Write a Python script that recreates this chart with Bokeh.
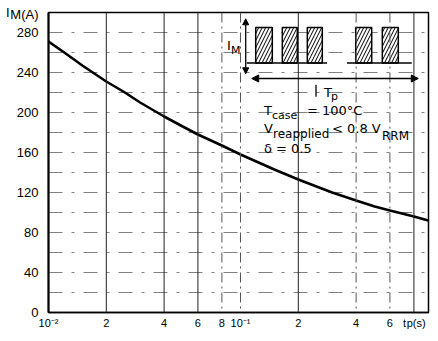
from bokeh.plotting import figure
from bokeh.models import FixedTicker, Span, Label, Arrow, NormalHead
from bokeh.embed import file_html
from bokeh.resources import INLINE

# ---- data ----
tp_s = [0.01, 0.0125, 0.015, 0.02, 0.025, 0.03, 0.04, 0.05, 0.06, 0.08,
        0.1, 0.15, 0.2, 0.3, 0.4, 0.5, 0.6, 0.8, 0.95]
im_a = [271, 258, 247, 231, 220, 210, 196, 186, 178, 167,
        158, 143, 133, 120, 112, 106, 102, 96, 92]

y_ticks = [0, 40, 80, 120, 160, 200, 240, 280]
y_grid = [20, 40, 60, 80, 100, 120, 140, 160, 180, 200, 220, 240, 260, 280]
x_ticks = [0.01, 0.02, 0.04, 0.06, 0.08, 0.1, 0.2, 0.4, 0.6]
x_tick_labels = ["10\u207b\u00b2", "2", "4", "6", "8", "10\u207b\u00b9", "2", "4", "6"]
solid_vlines = [0.02, 0.04, 0.06, 0.2, 0.8]
dashed_vlines = [0.08, 0.1, 0.4, 0.6]

NBSP = "\u00a0"
# axis captions, written as extra tick labels of the axes
y_caption = {300: "I" + NBSP * 8, 298: "M(A)"}
x_caption = {0.715: "t", 0.822: "p(s)"}

X0, X1 = 0.01, 0.953
Y0, Y1 = 0, 300

p = figure(width=438, height=341, x_axis_type="log", x_range=(X0, X1), y_range=(Y0, Y1),
           output_backend="svg", toolbar_location=None,
           min_border_left=48, min_border_right=10, min_border_top=12, min_border_bottom=29)
p.background_fill_color = "white"
p.border_fill_color = "white"
p.outline_line_color = "black"
p.outline_line_width = 1.5

# axes
p.yaxis.ticker = FixedTicker(ticks=y_ticks + list(y_caption))
p.yaxis.major_label_overrides = dict(y_caption)
p.xaxis.ticker = FixedTicker(ticks=x_ticks + list(x_caption))
ov = {t: l for t, l in zip(x_ticks, x_tick_labels)}
ov.update(x_caption)
p.xaxis.major_label_overrides = ov
for ax in (p.xaxis, p.yaxis):
    ax.major_tick_in = 0
    ax.major_tick_out = 0
    ax.minor_tick_line_color = None
    ax.axis_line_color = "black"
    ax.major_label_text_color = "black"
    ax.major_label_text_font = "Liberation Sans"
p.yaxis.axis_line_width = 2
p.xaxis.axis_line_width = 1.5
p.yaxis.major_label_text_font_size = "13px"
p.xaxis.major_label_text_font_size = "11px"
p.yaxis.major_label_standoff = 10
p.xaxis.major_label_standoff = 4

# grid
p.xgrid.grid_line_color = None
p.ygrid.ticker = FixedTicker(ticks=y_grid)
p.ygrid.grid_line_color = "#808080"
p.ygrid.grid_line_dash = "14 9 3 9"
p.ygrid.grid_line_width = 1
for v in solid_vlines:
    p.add_layout(Span(location=v, dimension="height", line_color="#222222", line_width=1))
for v in dashed_vlines:
    p.add_layout(Span(location=v, dimension="height", line_color="#555555", line_width=1,
                      line_dash="10 4 2 4"))

# curve
p.line(tp_s, im_a, line_color="black", line_width=2.6)

# ---- inset sketch (positions given in frame pixels, converted to data) ----
FRAME_LEFT, FRAME_BOTTOM = 48.5, 311.7

def sx(px):
    return 10 ** (-2 + (px - FRAME_LEFT) / 192.0)

def sy(py):
    return FRAME_BOTTOM - py

pulse_left_px = [255.7, 282.3, 307.3, 355.7, 382.3]
pulse_right_px = [272.3, 297.3, 322.3, 371.7, 398.3]
pulse_top_py, pulse_base_py = 26.7, 62.3

p.quad(left=[sx(v) for v in pulse_left_px], right=[sx(v) for v in pulse_right_px],
       top=sy(pulse_top_py), bottom=sy(pulse_base_py),
       fill_color="white", line_color="black", line_width=1.5,
       hatch_pattern="/", hatch_color="black", hatch_weight=1, hatch_scale=7)
p.line([sx(246.7), sx(327)], [sy(pulse_base_py)] * 2, line_color="black", line_width=1.5)
p.line([sx(347), sx(411.7)], [sy(pulse_base_py)] * 2, line_color="black", line_width=1.5)
p.line([sx(316)] * 2, [sy(84), sy(96)], line_color="black", line_width=1.3)

p.add_layout(Arrow(start=NormalHead(size=6, fill_color="black", line_color="black"),
                   end=NormalHead(size=6, fill_color="black", line_color="black"),
                   x_start=sx(245.7), y_start=sy(18), x_end=sx(245.7), y_end=sy(73),
                   line_color="black", line_width=1.3))
p.add_layout(Arrow(start=NormalHead(size=7, fill_color="black", line_color="black"),
                   end=NormalHead(size=7, fill_color="black", line_color="black"),
                   x_start=sx(251.7), y_start=sy(77.7), x_end=sx(418.3), y_end=sy(77.7),
                   line_color="black", line_width=1.3))

def lab(px, py, text, size, font="DejaVu Sans"):
    p.add_layout(Label(x=sx(px), y=sy(py), text=text, text_baseline="top",
                       text_align="left", text_font=font, text_font_size=size,
                       text_color="black"))

lab(227, 37, "I", "13px")
lab(231, 43, "M", "11px")
lab(324, 84, "T", "13px")
lab(331, 89, "p", "11px")
lab(264, 102, "T", "13px")
lab(272, 108, "case", "11px")
lab(307, 102, "= 100\u00b0C", "13px")
lab(264, 120, "V", "13px")
lab(273, 126, "reapplied", "12px")
lab(332, 120, "< 0.8 V", "13px")
lab(382, 128, "RRM", "12px")
lab(264, 140, "\u03b4 = 0.5", "13px")

open("out.html", "w").write(file_html(p, INLINE))
